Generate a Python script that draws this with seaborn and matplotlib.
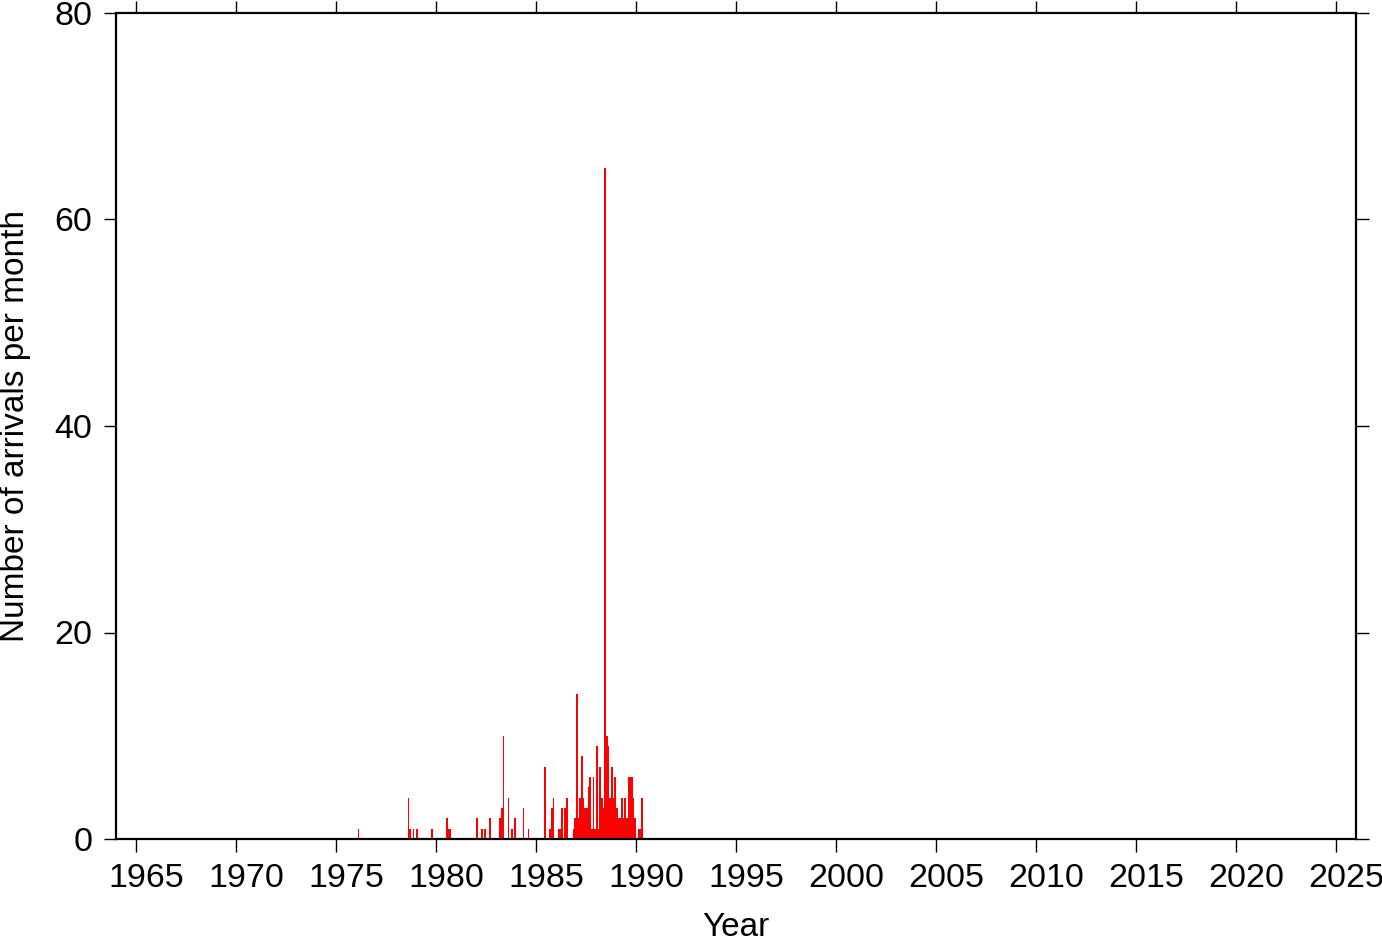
import numpy as np
import pandas as pd
import seaborn as sns
import matplotlib
matplotlib.use('Agg')
import matplotlib.pyplot as plt
import matplotlib.transforms as mtransforms

# arrivals per month
years = [1976, 1978, 1978, 1978, 1979, 1979, 1980, 1980, 1980,
         1982, 1982, 1982, 1982, 1983, 1983, 1983, 1983, 1983, 1983,
         1984, 1984, 1985, 1985, 1985, 1985,
         1986, 1986, 1986, 1986, 1986, 1986, 1986,
         1987, 1987, 1987, 1987, 1987, 1987, 1987, 1987, 1987, 1987, 1987, 1987,
         1988, 1988, 1988, 1988, 1988, 1988, 1988, 1988, 1988, 1988, 1988, 1988,
         1989, 1989, 1989, 1989, 1989, 1989, 1989, 1989, 1989, 1989, 1989, 1989,
         1990, 1990, 1990]
months = [2, 8, 9, 11, 1, 10, 7, 8, 9,
          1, 4, 6, 9, 3, 4, 5, 8, 10, 12,
          5, 8, 6, 9, 10, 11,
          2, 3, 4, 6, 7, 11, 12,
          1, 2, 3, 4, 5, 6, 7, 8, 9, 10, 11, 12,
          1, 2, 3, 4, 5, 6, 7, 8, 9, 10, 11, 12,
          1, 2, 3, 4, 5, 6, 7, 8, 9, 10, 11, 12,
          2, 3, 4]
counts = [1, 4, 1, 1, 1, 1, 2, 1, 1,
          2, 1, 1, 2, 2, 3, 10, 4, 1, 2,
          3, 1, 7, 1, 3, 4,
          1, 1, 3, 3, 4, 1, 2,
          14, 2, 4, 8, 4, 3, 3, 5, 6, 1, 6, 1,
          9, 1, 7, 4, 3, 65, 10, 9, 4, 7, 4, 6,
          3, 2, 2, 4, 2, 4, 2, 6, 6, 6, 4, 2,
          1, 1, 4]

year_ticks = list(range(1965, 2026, 5))
count_ticks = [0, 20, 40, 60, 80]

df = pd.DataFrame({'year': years, 'month': months, 'n': counts})
df['t'] = df['year'] + (df['month'] - 0.5) / 12.0

sns.set_style('ticks')
plt.rcParams['font.family'] = ['Liberation Sans', 'DejaVu Sans']
plt.rcParams['text.color'] = 'black'
plt.rcParams['axes.labelcolor'] = 'black'
plt.rcParams['xtick.color'] = 'black'
plt.rcParams['ytick.color'] = 'black'

fig = plt.figure(figsize=(13.82, 9.42), dpi=100)
ax = fig.add_axes([116 / 1382, 103 / 942, 1240 / 1382, 826 / 942])

sns.histplot(data=df, x='t', weights='n', binwidth=1 / 12.0,
             binrange=(1964, 2026), ax=ax,
             color='#ff0000', alpha=1.0, linewidth=0)

ax.set_xlim(1964, 2026)
ax.set_ylim(0, 80)
ax.set_xticks(year_ticks)
ax.set_yticks(count_ticks)
ax.set_xlabel('Year', fontsize=24, labelpad=13)
ax.set_ylabel('Number of arrivals per month', fontsize=24, labelpad=17)

for s in ax.spines.values():
    s.set_visible(True)
    s.set_linewidth(1.6)
    s.set_color('black')

ax.tick_params(axis='both', which='major', direction='out', length=9, width=1.0,
               labelsize=24.5, top=True, right=True, labeltop=False, labelright=False,
               color='black', labelcolor='black')
ax.tick_params(axis='x', pad=8)
ax.tick_params(axis='y', pad=8)

# year labels sit a little to the right of their ticks in the reference
shift = mtransforms.ScaledTranslation(10 / 100, 0, fig.dpi_scale_trans)
for lab in ax.get_xticklabels():
    lab.set_transform(lab.get_transform() + shift)

fig.savefig('out.png', dpi=100)
